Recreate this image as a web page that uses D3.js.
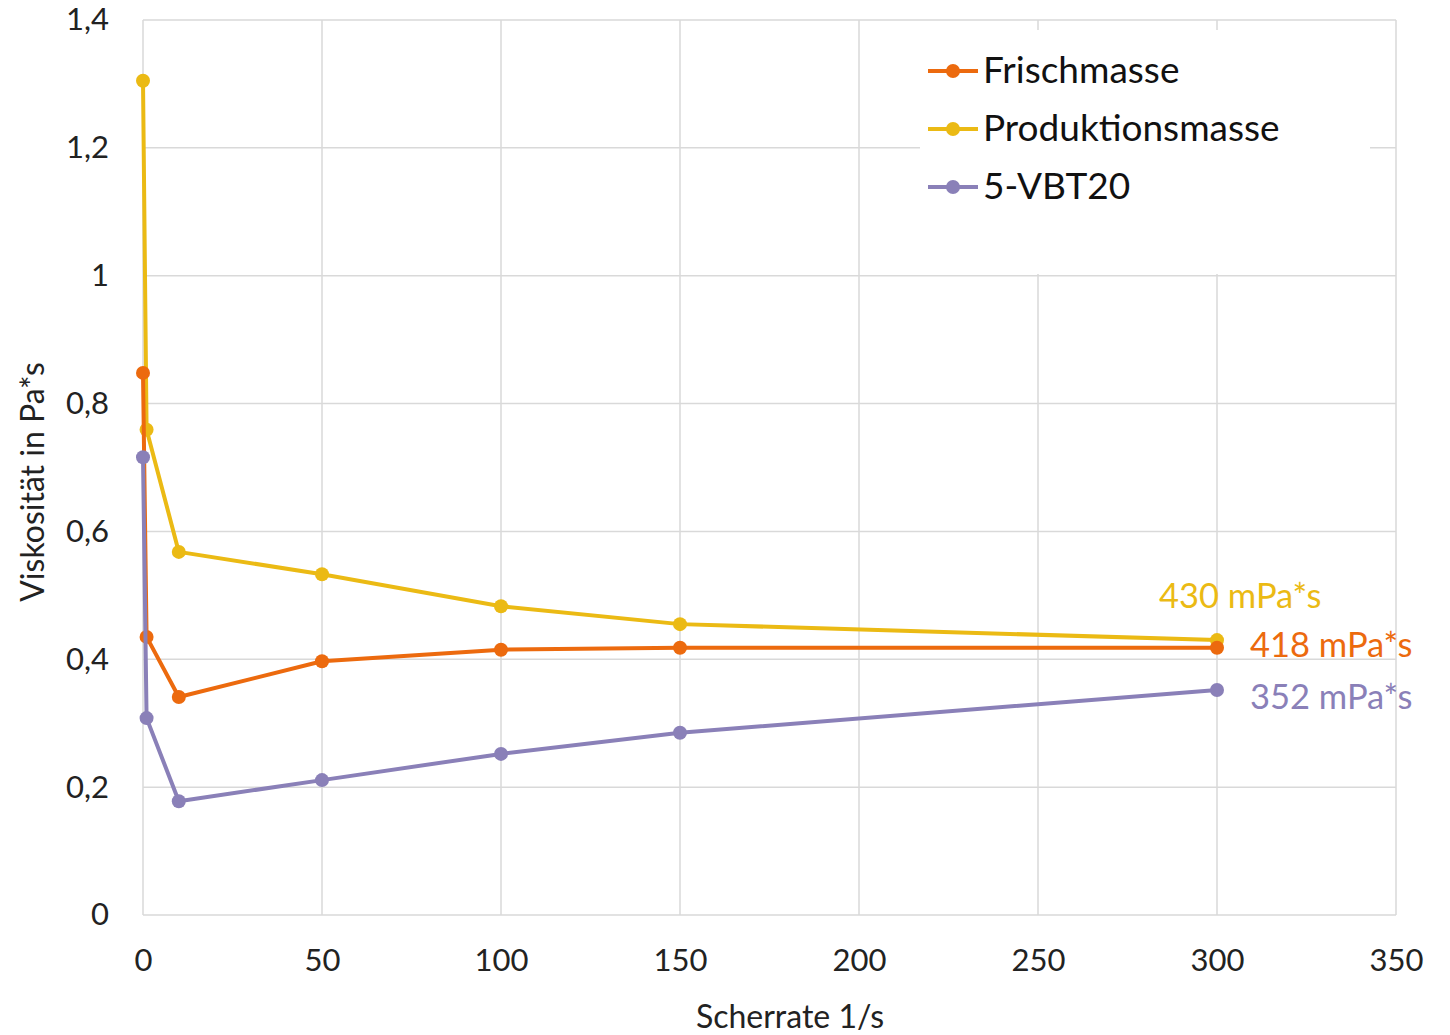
<!DOCTYPE html>
<html><head><meta charset="utf-8">
<script src="https://cdn.jsdelivr.net/npm/d3@7"></script>
<style>body{margin:0;background:#fff;} svg{display:block;}</style>
</head><body>
<svg id="c" width="1450" height="1035"></svg>
<script>
const shearRates = [0, 1, 10, 50, 100, 150, 300];
const frischmasse = [0.848, 0.435, 0.341, 0.397, 0.415, 0.418, 0.418];
const produktionsmasse = [1.305, 0.759, 0.568, 0.533, 0.483, 0.455, 0.430];
const vbt20 = [0.716, 0.308, 0.178, 0.211, 0.252, 0.285, 0.352];
const seriesNames = ["Frischmasse", "Produktionsmasse", "5-VBT20"];
const seriesColors = ["#EC6A0E", "#EBBA14", "#8A80B8"];
const endLabels = ["418 mPa*s", "430 mPa*s", "352 mPa*s"];
const xTicks = [0, 50, 100, 150, 200, 250, 300, 350];
const yTicks = [0, 0.2, 0.4, 0.6, 0.8, 1.0, 1.2, 1.4];

const font = "Lato, 'Open Sans', sans-serif";
const svg = d3.select("#c");
const x = d3.scaleLinear().domain([0, 350]).range([143, 1396]);
const y = d3.scaleLinear().domain([0, 1.4]).range([915, 20]);
const fmt = v => String(+v.toFixed(1)).replace(".", ",");

// gridlines
const g = svg.append("g");
g.selectAll(".gx").data(xTicks).enter().append("line")
  .attr("x1", d => x(d)).attr("x2", d => x(d)).attr("y1", y(1.4)).attr("y2", y(0))
  .attr("stroke", "#d9d9d9").attr("stroke-width", 1.5);
g.selectAll(".gy").data(yTicks).enter().append("line")
  .attr("x1", x(0)).attr("x2", x(350)).attr("y1", d => y(d)).attr("y2", d => y(d))
  .attr("stroke", "#d9d9d9").attr("stroke-width", 1.5);

// axes labels via d3 axes (no domain lines)
const xAxis = svg.append("g").attr("transform", `translate(0,${y(0)})`)
  .call(d3.axisBottom(x).tickValues(xTicks).tickSize(0).tickPadding(34).tickFormat(d => d));
const yAxis = svg.append("g").attr("transform", `translate(${x(0)},0)`)
  .call(d3.axisLeft(y).tickValues(yTicks).tickSize(0).tickPadding(34).tickFormat(fmt));
[xAxis, yAxis].forEach(a => {
  a.select(".domain").remove();
  a.selectAll("text").attr("font-family", font).attr("font-size", 31).attr("fill", "#222");
});

// legend background
svg.append("rect").attr("x", 920).attr("y", 30).attr("width", 450).attr("height", 244).attr("fill", "#fff");

// series
const allSeries = [frischmasse, produktionsmasse, vbt20];
const drawOrder = [1, 0, 2];
const line = d3.line().x((d, i) => x(shearRates[i])).y(d => y(d));
drawOrder.forEach(si => {
  const vals = allSeries[si];
  svg.append("path").datum(vals).attr("d", line).attr("fill", "none")
    .attr("stroke", seriesColors[si]).attr("stroke-width", 4).attr("stroke-linejoin", "round");
  svg.append("g").selectAll("circle").data(vals).enter().append("circle")
    .attr("cx", (d, i) => x(shearRates[i])).attr("cy", d => y(d)).attr("r", 7)
    .attr("fill", seriesColors[si]);
});

// legend
seriesNames.forEach((n, i) => {
  const ly = 71 + i * 58;
  svg.append("line").attr("x1", 928).attr("x2", 978).attr("y1", ly).attr("y2", ly)
    .attr("stroke", seriesColors[i]).attr("stroke-width", 4);
  svg.append("circle").attr("cx", 953).attr("cy", ly).attr("r", 7).attr("fill", seriesColors[i]);
  svg.append("text").attr("x", 983).attr("y", ly + 12).text(n)
    .attr("font-family", font).attr("font-size", 37).attr("fill", "#111");
});

// end labels
const lblPos = [[1250, 657], [1159, 608], [1250, 709]];
endLabels.forEach((t, i) => {
  svg.append("text").attr("x", lblPos[i][0]).attr("y", lblPos[i][1]).text(t)
    .attr("font-family", font).attr("font-size", 34.5).attr("fill", seriesColors[i]);
});

// axis titles
svg.append("text").attr("x", 790).attr("y", 1028).attr("text-anchor", "middle")
  .text("Scherrate 1/s").attr("font-family", font).attr("font-size", 32).attr("fill", "#222");
svg.append("text").attr("transform", "translate(44,482) rotate(-90)").attr("text-anchor", "middle")
  .text("Viskosität in Pa*s").attr("font-family", font).attr("font-size", 32).attr("fill", "#222");
</script>
</body></html>
